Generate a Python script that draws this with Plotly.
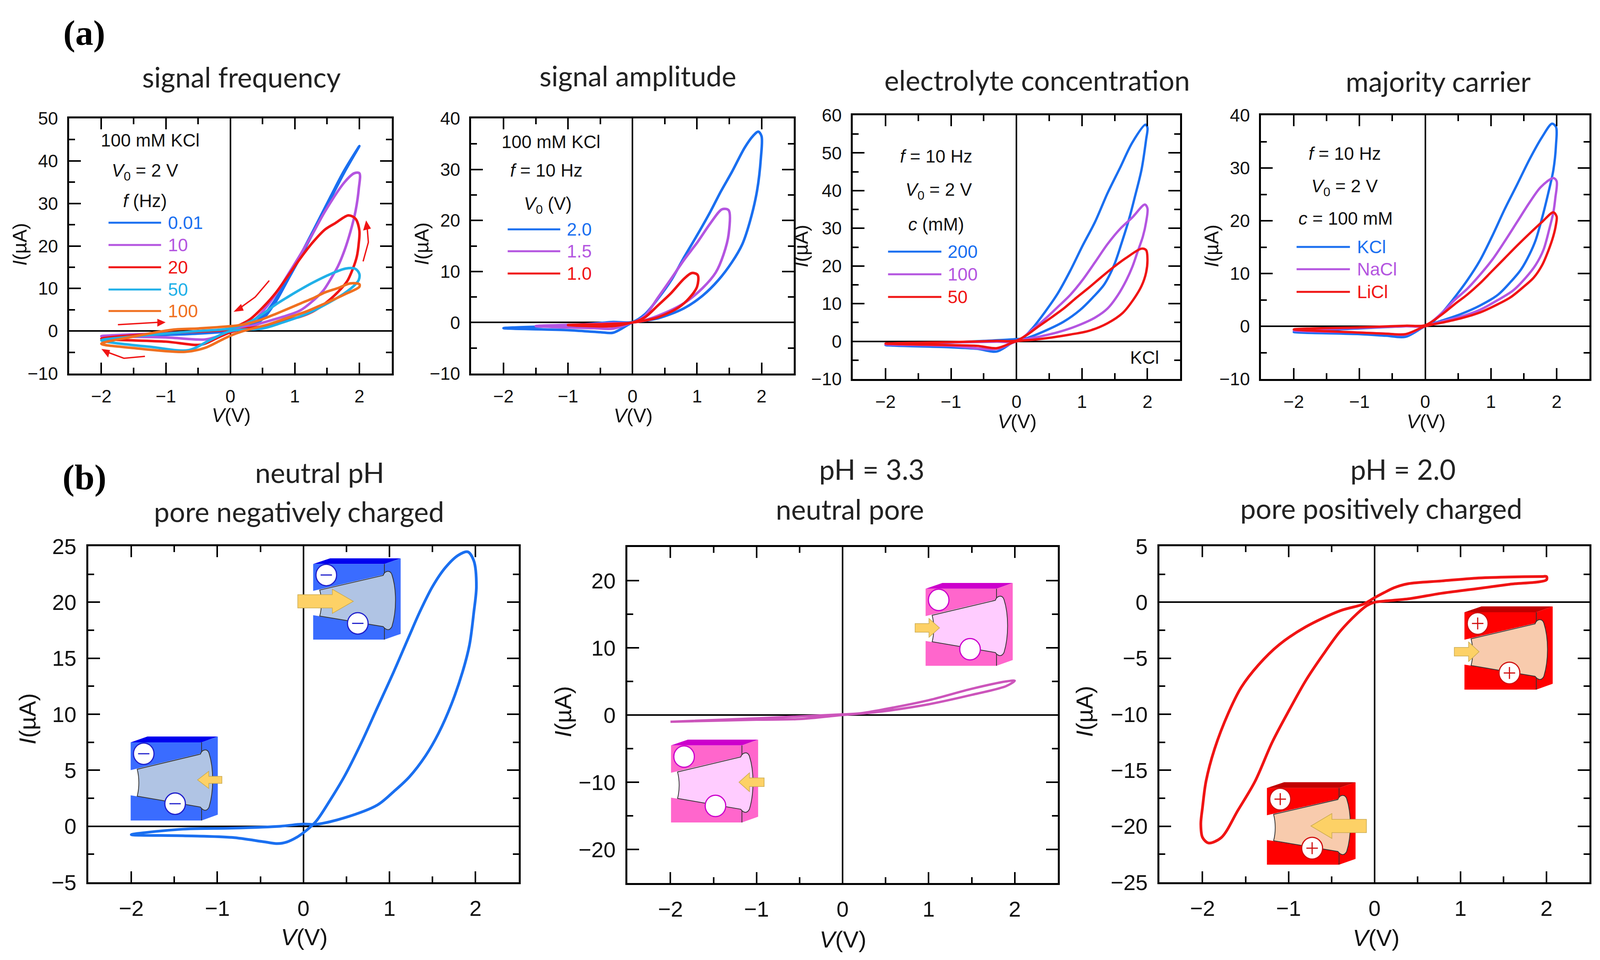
import plotly.graph_objects as go

W, H = 4261, 2457

BLUE = "#1a6ff0"
PURPLE = "#b455e0"
RED = "#f01414"
RED_DARK = "#d01010"
CYAN = "#20b0e8"
ORANGE = "#f07020"
PINK = "#cc55bb"

# (a) signal frequency
freq_001_v = [2, 1.77, 1.57, 1.28, 1.09, 0.89, 0.7, 0.5, 0.3, 0, -0.5, -1, -2, -1, -0.5, 0, 0.28, 0.48, 0.68, 0.88, 1.08, 1.27, 1.56, 1.76, 2]
freq_001_i = [43.5, 37.4, 31.6, 23, 17.5, 12, 6.8, 2.8, 1, 0, -0.6, -0.9, -1.2, -0.7, -0.3, 0.2, 1.2, 3.2, 7, 12.2, 17.7, 23.2, 31.8, 37.6, 43.5]
freq_10_v = [1.92, 1.77, 1.47, 1.28, 1.09, 0.89, 0.7, 0.5, 0.31, 0.1, -0.05, -0.3, -1, -2, -1, -0.4, -0.2, 0, 0.4, 0.89, 1.09, 1.28, 1.44, 1.57, 1.67, 1.77, 1.86, 1.94, 1.99, 2, 1.92]
freq_10_i = [37.1, 35, 28.2, 23, 18.1, 13.2, 8.6, 4.6, 1.9, 0.6, 0.2, 0, -0.5, -1.2, -1.5, -2, -1.3, -0.3, 1.5, 3.7, 4.9, 7.1, 9.5, 12.6, 15.3, 19, 23.3, 28.2, 33.4, 37.1, 37.1]
freq_20_v = [1.83, 1.63, 1.47, 1.28, 1.09, 0.89, 0.7, 0.5, 0.31, 0.21, -0.05, -0.3, -1, -2, -1, -0.45, -0.2, 0, 0.25, 0.5, 0.79, 1.09, 1.28, 1.47, 1.67, 1.81, 1.9, 1.96, 1.99, 2, 1.94, 1.83]
freq_20_i = [27.2, 25.4, 23.9, 20.9, 17.2, 12.9, 8.9, 5.5, 2.8, 1.9, 0.3, 0, -0.5, -1.8, -2.5, -3.2, -1.6, -0.3, 0.6, 1.1, 2.2, 3.4, 4.6, 6.5, 9.2, 11.7, 14.7, 17.5, 20.6, 23.6, 26.4, 27.2]
freq_50_v = [1.79, 1.57, 1.28, 1.09, 0.89, 0.7, 0.5, 0.31, 0, -0.5, -1, -1.5, -2, -1.2, -0.65, -0.3, 0, 0.5, 0.79, 1.18, 1.47, 1.77, 1.94, 1.99, 2, 1.94, 1.79]
freq_50_i = [14.7, 13.5, 11.4, 9.8, 8, 6.2, 4, 2.2, 0.6, 0, -0.6, -1.3, -2.2, -3.8, -4.5, -2, 0, 0.6, 1.9, 4, 6.2, 8.9, 11, 12, 13.4, 14.6, 14.7]
freq_100_v = [2, 1.86, 1.67, 1.47, 1.28, 1.09, 0.89, 0.7, 0.5, 0.31, 0.11, -0.2, -0.5, -0.9, -1.5, -2, -1.5, -0.7, -0.4, -0.15, 0, 0.2, 0.35, 0.6, 0.89, 1.18, 1.47, 1.77, 2, 2]
freq_100_i = [11, 11.2, 10.1, 9.1, 7.7, 6.5, 5.2, 4, 2.8, 1.9, 1.3, 0.9, 0.6, 0.3, -1.3, -3, -4, -4.9, -4, -2.2, -1.1, 0, 0.6, 1.6, 3.1, 4.6, 6.5, 8.6, 10.4, 11]

# (a) signal amplitude
amp_20_v = [1.95, 1.87, 1.74, 1.54, 1.37, 1.21, 1.01, 0.8, 0.6, 0.39, 0.19, 0, -0.3, -0.5, -1, -2, -1, -0.5, -0.3, 0, 0.11, 0.39, 0.8, 1.09, 1.33, 1.54, 1.7, 1.82, 1.93, 1.99, 2, 1.95]
amp_20_i = [37.4, 36.6, 34.3, 29.5, 25.7, 21.8, 17.3, 12.8, 8.3, 4.6, 1.6, 0.1, 0.1, -0.1, -0.6, -1.1, -1.5, -1.9, -2, 0, 0.2, 0.8, 2.8, 5.3, 8.3, 11.8, 15.3, 19.8, 25.8, 32.3, 36.5, 37.4]
amp_15_v = [1.39, 1.21, 1.01, 0.8, 0.6, 0.39, 0.19, 0, -0.3, -0.8, -1.5, -0.6, -0.3, 0, 0.11, 0.39, 0.8, 1.09, 1.29, 1.41, 1.49, 1.49, 1.39]
amp_15_i = [22.2, 19.5, 15.8, 12.3, 8.6, 4.8, 1.3, 0, -0.1, -0.4, -0.7, -1.1, -1.2, 0, 0.2, 1.3, 3.8, 6.8, 9.8, 13.3, 17.3, 22, 22.2]
amp_10_v = [0.92, 0.8, 0.6, 0.39, 0.19, 0, -0.4, -1, -0.3, 0, 0.11, 0.39, 0.72, 0.88, 1, 1.01, 0.92]
amp_10_i = [9.7, 8.6, 5.8, 3.3, 1, 0, -0.3, -0.5, -0.7, 0, 0.2, 1, 3, 4.8, 7, 9.3, 9.7]

# (a) electrolyte concentration
conc_200_v = [1.97, 1.77, 1.58, 1.39, 1.2, 1.01, 0.82, 0.63, 0.44, 0.25, 0.09, 0, -0.5, -1, -2, -1, -0.6, -0.3, 0, 0.15, 0.44, 0.72, 0.97, 1.18, 1.34, 1.49, 1.6, 1.72, 1.81, 1.91, 1.98, 2, 1.97]
conc_200_i = [57.5, 52.8, 46, 39.3, 31.7, 25.4, 18.7, 12.7, 7.9, 3.6, 0.8, 0.6, 0.1, -0.3, -1, -1.6, -2, -2.7, 0.3, 0.8, 2.8, 5.2, 8.3, 11.9, 15.1, 20.2, 25.8, 32.5, 38.5, 45.6, 53.6, 56.7, 57.5]
conc_100_v = [1.96, 1.77, 1.58, 1.39, 1.2, 1.01, 0.82, 0.63, 0.44, 0.25, 0, -0.3, -1, -2, -1, -0.3, 0, 0.34, 0.63, 0.91, 1.2, 1.39, 1.55, 1.68, 1.77, 1.85, 1.93, 1.98, 2, 1.96]
conc_100_i = [36.3, 32.9, 29.8, 25.8, 21, 16.3, 12.3, 9.1, 6, 3.2, 0, -0.1, -0.3, -0.8, -1.2, -2, 0, 1.2, 2.4, 4, 6.3, 8.7, 12.3, 16.3, 19.8, 23.8, 27.8, 31.7, 35.3, 36.3]
conc_50_v = [1.91, 1.68, 1.49, 1.3, 1.11, 0.91, 0.72, 0.53, 0.34, 0.15, 0, -0.3, -1, -2, -1, -0.6, -0.3, 0, 0.25, 0.53, 0.82, 1.11, 1.39, 1.62, 1.77, 1.91, 1.98, 2, 1.98, 1.91]
conc_50_i = [24.6, 22.2, 19.8, 17.1, 14.3, 11.5, 8.7, 6.3, 4, 1.6, 0.2, 0.1, -0.2, -0.6, -1, -1.2, -1.8, 0, 0.4, 1, 1.8, 2.8, 4.8, 7.5, 10.7, 14.7, 18.3, 21.8, 24.2, 24.6]

# (a) majority carrier
kcl_v = [1.93, 1.78, 1.59, 1.4, 1.21, 1.02, 0.83, 0.64, 0.45, 0.26, 0.1, 0, -0.3, -1, -2, -1, -0.6, -0.3, 0, 0.26, 0.54, 0.83, 1.11, 1.3, 1.46, 1.59, 1.68, 1.78, 1.87, 1.95, 1.99, 1.99, 1.93]
kcl_i = [38.4, 35.9, 31.7, 26.9, 22.2, 17.1, 12.4, 8.7, 5.5, 2.6, 0.7, 0.1, 0, -0.4, -1.1, -1.5, -1.8, -2, 0, 1.1, 2.3, 3.9, 6, 8.4, 10.8, 13.7, 16.3, 20.6, 25.1, 29.6, 34.3, 37.8, 38.4]
nacl_v = [1.95, 1.76, 1.59, 1.4, 1.21, 1.02, 0.83, 0.64, 0.45, 0.26, 0, -0.3, -1, -2, -1, -0.6, -0.3, 0, 0.26, 0.54, 0.83, 1.11, 1.34, 1.53, 1.68, 1.8, 1.89, 1.95, 1.98, 2, 1.95]
nacl_i = [28.1, 26.4, 23.5, 19.8, 16.1, 12.6, 9.7, 7.1, 5, 2.6, 0.1, 0, -0.3, -0.8, -1.2, -1.4, -1.6, 0, 0.9, 1.8, 3.1, 5, 6.8, 9.2, 11.6, 14.5, 18.5, 21.6, 24.3, 27.5, 28.1]
licl_v = [1.95, 1.78, 1.59, 1.4, 1.21, 1.02, 0.83, 0.64, 0.45, 0.26, 0, -0.3, -1, -2, -1, -0.6, -0.3, 0, 0.26, 0.54, 0.83, 1.11, 1.3, 1.49, 1.65, 1.78, 1.87, 1.95, 1.99, 2, 1.95]
licl_i = [21.6, 19.8, 17.6, 15.3, 12.9, 10.5, 8.1, 6, 4.2, 2.3, 0.2, 0.1, -0.2, -0.6, -1.2, -1.4, -1.5, 0, 0.7, 1.5, 2.6, 4.2, 5.5, 7.4, 9.2, 11.6, 14.2, 17.1, 19.3, 20.8, 21.6]

# (b) pH series
ph7_v = [1.91, 1.8, 1.65, 1.5, 1.35, 1.23, 1.05, 0.86, 0.67, 0.48, 0.3, 0.15, 0.03, -0.08, -0.19, -0.3, -0.45, -0.83, -1.4, -2, -1.4, -0.83, -0.27, 0, 0.15, 0.48, 0.86, 1.05, 1.23, 1.42, 1.57, 1.72, 1.85, 1.93, 1.98, 2.01, 1.98, 1.91]
ph7_i = [24.5, 24.2, 23.1, 21.4, 19.1, 17, 13.8, 10.6, 7.4, 4.5, 2.2, 0.47, -0.4, -1, -1.4, -1.55, -1.4, -1, -0.85, -0.75, -0.26, -0.17, 0, 0.2, 0.17, 0.76, 1.9, 3.1, 4.4, 6.3, 8.3, 10.9, 13.8, 16.2, 19.1, 21.4, 23.7, 24.5]
ph33_v = [2, 1.9, 1.5, 1, 0.5, 0.2, 0, -0.5, -1, -2, -1, -0.5, 0, 0.2, 0.5, 1, 1.5, 1.9, 2]
ph33_i = [5.1, 5, 3.9, 2.2, 0.9, 0.25, 0.1, -0.2, -0.5, -1, -0.7, -0.6, 0, 0.2, 0.6, 1.6, 3, 4.3, 5.1]
ph2_v = [2, 1.96, 1.57, 1.18, 0.78, 0.39, 0.23, 0.11, 0, -0.13, -0.4, -0.8, -1.11, -1.35, -1.55, -1.7, -1.86, -1.96, -2, -2.02, -2, -1.93, -1.78, -1.59, -1.39, -1.19, -0.99, -0.8, -0.6, -0.4, -0.2, -0.09, 0, 0.11, 0.39, 0.78, 1.18, 1.57, 2, 2]
ph2_i = [2.3, 2.3, 2.25, 2.15, 1.9, 1.65, 1.3, 0.85, 0.4, -0.17, -0.76, -2.2, -3.8, -5.6, -7.6, -9.9, -13.1, -16, -18.3, -19.8, -21, -21.5, -21, -18.6, -16, -12.5, -9.6, -7, -4.7, -2.6, -1, -0.3, 0, 0.1, 0.3, 0.8, 1.2, 1.6, 2, 2.3]

# curves, y range, y major, plot box in reference pixels, axis title positions, tick font
panels = [
    dict(curves=[(freq_001_v, freq_001_i, BLUE), (freq_10_v, freq_10_i, PURPLE), (freq_20_v, freq_20_i, RED),
                 (freq_50_v, freq_50_i, CYAN), (freq_100_v, freq_100_i, ORANGE)],
         yr=[-10, 50], dy=10, box=(184, 1043, 303, 956), vpos=(616, 1063), ipos=(53, 625), font=46, lw=6.5),
    dict(curves=[(amp_20_v, amp_20_i, BLUE), (amp_15_v, amp_15_i, PURPLE), (amp_10_v, amp_10_i, RED)],
         yr=[-10, 40], dy=10, box=(1255, 2114, 303, 956), vpos=(1686, 1064), ipos=(1124, 624), font=46, lw=6.5),
    dict(curves=[(conc_200_v, conc_200_i, BLUE), (conc_100_v, conc_100_i, PURPLE), (conc_50_v, conc_50_i, RED)],
         yr=[-10, 60], dy=10, box=(2271, 3143, 295, 970), vpos=(2709, 1079), ipos=(2134, 630), font=46, lw=6),
    dict(curves=[(kcl_v, kcl_i, BLUE), (nacl_v, nacl_i, PURPLE), (licl_v, licl_i, RED)],
         yr=[-10, 40], dy=10, box=(3358, 4233, 295, 970), vpos=(3798, 1079), ipos=(3227, 630), font=46, lw=6),
    dict(curves=[(ph7_v, ph7_i, BLUE)],
         yr=[-5, 25], dy=5, box=(235, 1381, 1398, 2258), vpos=(810, 2398), ipos=(73, 1840), font=56, lw=7),
    dict(curves=[(ph33_v, ph33_i, PINK)],
         yr=[-25, 25], dy=10, box=(1671, 2817, 1400, 2260), vpos=(2245, 2404), ipos=(1499, 1821), font=56, lw=6),
    dict(curves=[(ph2_v, ph2_i, RED)],
         yr=[-25, 5], dy=5, box=(3088, 4233, 1398, 2258), vpos=(3665, 2400), ipos=(2888, 1821), font=56, lw=7),
]

titles = [
    ("signal frequency", 643, 196), ("signal amplitude", 1699, 194),
    ("electrolyte concentration", 2762, 204), ("majority carrier", 3830, 207),
    ("neutral pH", 851, 1208), ("pore negatively charged", 796, 1308),
    ("pH = 3.3", 2322, 1200), ("neutral pore", 2264, 1302),
    ("pH = 2.0", 3737, 1200), ("pore positively charged", 3678, 1300),
]

notes = [
    ("100 mM KCl", 400, 359), ("<i>V</i><sub>0</sub> = 2 V", 386, 440), ("<i>f</i> (Hz)", 386, 514),
    ("100 mM KCl", 1467, 363), ("<i>f</i> = 10 Hz", 1455, 436), ("<i>V</i><sub>0</sub> (V)", 1459, 524),
    ("<i>f</i> = 10 Hz", 2493, 400), ("<i>V</i><sub>0</sub> = 2 V", 2500, 488), ("<i>c</i> (mM)", 2493, 574),
    ("KCl", 3048, 915),
    ("<i>f</i> = 10 Hz", 3581, 393), ("<i>V</i><sub>0</sub> = 2 V", 3581, 480), ("<i>c</i> = 100 mM", 3584, 559),
]

# legend rows: label, colour, line x0, x1, y, label x
legend_rows = [
    ("0.01", BLUE, 289, 429, 570, 445), ("10", PURPLE, 289, 429, 627, 445), ("20", RED, 289, 429, 684, 445),
    ("50", CYAN, 289, 429, 741, 445), ("100", ORANGE, 289, 429, 796, 445),
    ("2.0", BLUE, 1352, 1492, 587, 1507), ("1.5", PURPLE, 1352, 1492, 643, 1507), ("1.0", RED, 1352, 1492, 700, 1507),
    ("200", BLUE, 2365, 2507, 644, 2522), ("100", PURPLE, 2365, 2507, 702, 2522), ("50", RED, 2365, 2507, 760, 2522),
    ("KCl", BLUE, 3453, 3595, 632, 3612), ("NaCl", PURPLE, 3453, 3595, 689, 3612), ("LiCl", RED, 3453, 3595, 747, 3612),
]


def px(x):
    return x / W


def py(y):
    return 1 - y / H


fig = go.Figure()
annotations = []
shapes = []


def add_text(text, x, y, size, color="#111111", family="Liberation Sans", anchor="center", angle=0):
    annotations.append(dict(text=text, x=px(x), y=py(y), xref="paper", yref="paper", showarrow=False,
                            xanchor=anchor, yanchor="middle", textangle=angle,
                            font=dict(size=size, color=color, family=family)))


def path_from(points, closed=True):
    d = "M" + " L".join(f"{px(a):.5f},{py(b):.5f}" for a, b in points)
    return d + (" Z" if closed else "")


def add_poly(points, fill, line=None, width=0):
    shapes.append(dict(type="path", path=path_from(points), xref="paper", yref="paper", fillcolor=fill,
                       line=dict(color=line or fill, width=width)))


def add_segment(x0, y0, x1, y1, color, width):
    shapes.append(dict(type="line", x0=px(x0), x1=px(x1), y0=py(y0), y1=py(y1), xref="paper", yref="paper",
                       line=dict(color=color, width=width)))


def add_disc(cx, cy, r, edge):
    shapes.append(dict(type="circle", x0=px(cx - r), x1=px(cx + r), y0=py(cy - r), y1=py(cy + r),
                       xref="paper", yref="paper", fillcolor="white", line=dict(color=edge, width=3)))


def add_arrow(tail, tip, y, shaft, head, head_len):
    # yellow block arrow of the pore sketches
    sign = 1 if tip > tail else -1
    neck = tip - sign * head_len
    add_poly([(tail, y - shaft), (neck, y - shaft), (neck, y - head), (tip, y), (neck, y + head),
              (neck, y + shaft), (tail, y + shaft)], "#fdd166", "#c9a94f", 1.5)


def add_pore(x0, y0, x1, y1, top, front, side, core, edge, mark):
    w, h = x1 - x0, y1 - y0

    def p(u, v):
        return x0 + u * w, y0 + v * h

    def c(u, v):
        a, b = p(u, v)
        return f"{px(a):.5f},{py(b):.5f}"

    add_poly([p(0, .07), p(.193, 0), p(1, 0), p(.814, .07)], top)
    add_poly([p(.814, .07), p(1, 0), p(1, .93), p(.814, 1)], side)
    add_poly([p(0, .07), p(.814, .07), p(.814, .2), p(0, .4)], front)
    add_poly([p(0, .7), p(.814, .84), p(.814, 1), p(0, 1)], front)
    add_segment(*p(.814, .07), *p(.814, 1), "#333333", 2)
    bore = (f"M{c(.075, .39)} L{c(.80, .21)} C{c(.82, .15)} {c(.88, .14)} {c(.90, .2)} "
            f"C{c(.955, .38)} {c(.955, .65)} {c(.90, .84)} C{c(.87, .9)} {c(.83, .88)} {c(.80, .84)} "
            f"L{c(.075, .71)} C{c(.10, .61)} {c(.10, .49)} {c(.075, .39)} Z")
    shapes.append(dict(type="path", path=bore, xref="paper", yref="paper", fillcolor=core,
                       line=dict(color="#333333", width=2)))
    r = 0.118 * w
    for u, v in [(.15, .205), (.51, .8)]:
        cx, cy = p(u, v)
        add_disc(cx, cy, r, edge)
        if mark:
            add_segment(cx - r * .55, cy, cx + r * .55, cy, mark, 3)
        if mark == RED_DARK:
            add_segment(cx, cy - r * .55, cx, cy + r * .55, mark, 3)


# axes and curves
for n, panel in enumerate(panels, start=1):
    x0, x1, y0, y1 = panel["box"]
    for vs, cs, color in panel["curves"]:
        fig.add_trace(go.Scatter(x=vs, y=cs, mode="lines", xaxis=f"x{n}", yaxis=f"y{n}", hoverinfo="skip",
                                 line=dict(color=color, width=panel["lw"], shape="spline", smoothing=0.9)))
    common = dict(showline=True, linecolor="black", linewidth=5, mirror="ticks", ticks="inside", tickcolor="black",
                  tickwidth=4, showgrid=False, zeroline=True, zerolinecolor="black", zerolinewidth=4, automargin=False,
                  tickfont=dict(size=panel["font"], family="Liberation Sans", color="#111111"), ticklabelstandoff=14)
    fig.update_layout({
        f"xaxis{n}": dict(domain=[px(x0), px(x1)], anchor=f"y{n}", range=[-2.5, 2.5], dtick=1, ticklen=28,
                          minor=dict(dtick=0.5, ticks="inside", ticklen=15, tickwidth=4, tickcolor="black"), **common),
        f"yaxis{n}": dict(domain=[py(y1), py(y0)], anchor=f"x{n}", range=panel["yr"], dtick=panel["dy"], ticklen=30,
                          minor=dict(dtick=panel["dy"] / 2, ticks="inside", ticklen=15, tickwidth=4, tickcolor="black"),
                          **common),
    })
    size = 50 if n <= 4 else 60
    add_text("<i>V</i>(V)", *panel["vpos"], size)
    add_text("<i>I</i>(µA)", *panel["ipos"], size, angle=-90)

add_text("<b>(a)</b>", 224, 84, 92, color="black", family="Liberation Serif")
add_text("<b>(b)</b>", 225, 1221, 92, color="black", family="Liberation Serif")
for text, x, y in titles:
    add_text(text, x, y, 71, color="#222222", family="Lato")
for text, x, y in notes:
    add_text(text, x, y, 46)
for label, color, lx0, lx1, ly, tx in legend_rows:
    add_segment(lx0, ly, lx1, ly, color, 5)
    add_text(label, tx, ly, 46, color=color, anchor="left")

# little red arrows in the frequency panel
for pts, head in [
    ([(967, 669), (981, 620), (977, 572)], [(967, 590), (988, 585), (975, 564)]),
    ([(717, 718), (680, 760), (628, 796)], [(622, 798), (642, 778), (649, 795)]),
    ([(314, 831), (421, 825)], [(441, 825), (419, 816), (419, 836)]),
    ([(386, 912), (330, 917), (288, 902)], [(270, 893), (288, 915), (293, 896)]),
]:
    shapes.append(dict(type="path", path=path_from(pts, closed=False), xref="paper", yref="paper",
                       line=dict(color=RED, width=3.5)))
    add_poly(head, RED)

# pore sketches in (b)
add_pore(834, 1429, 1067, 1637, "#0000ee", "#3a6cff", "#3a6cff", "#b0c4e4", "#2020cc", "#2020cc")
add_arrow(793, 941, 1539, 17, 31, 56)
add_pore(348, 1885, 580, 2100, "#0000ee", "#3a6cff", "#3a6cff", "#b0c4e4", "#2020cc", "#2020cc")
add_arrow(591, 526, 1996, 9, 22, 30)
add_pore(2465, 1492, 2697, 1704, "#cc00cc", "#ff66cc", "#ff66cc", "#ffccff", "#cc00cc", None)
add_arrow(2437, 2502, 1607, 11, 24, 28)
add_pore(1787, 1893, 2019, 2105, "#cc00cc", "#ff66cc", "#ff66cc", "#ffccff", "#cc00cc", None)
add_arrow(2035, 1968, 2002, 11, 24, 28)
add_pore(3900, 1552, 4135, 1765, "#c00000", "#ff0000", "#ff0000", "#f8cbad", RED_DARK, RED_DARK)
add_arrow(3873, 3939, 1668, 11, 25, 28)
add_pore(3374, 2002, 3610, 2213, "#c00000", "#ff0000", "#ff0000", "#f8cbad", RED_DARK, RED_DARK)
add_arrow(3639, 3491, 2114, 17, 32, 56)

fig.update_layout(width=W, height=H, margin=dict(l=0, r=0, t=0, b=0), showlegend=False,
                  paper_bgcolor="white", plot_bgcolor="white", annotations=annotations, shapes=shapes)

# the browser window can be narrower than asked, so fill whatever it gives
fit = ("document.body.style.margin='0';"
       "Plotly.relayout('{plot_id}',{width:window.innerWidth,height:window.innerHeight});")
fig.write_html("out.html", config={"displayModeBar": False}, post_script=fit)
